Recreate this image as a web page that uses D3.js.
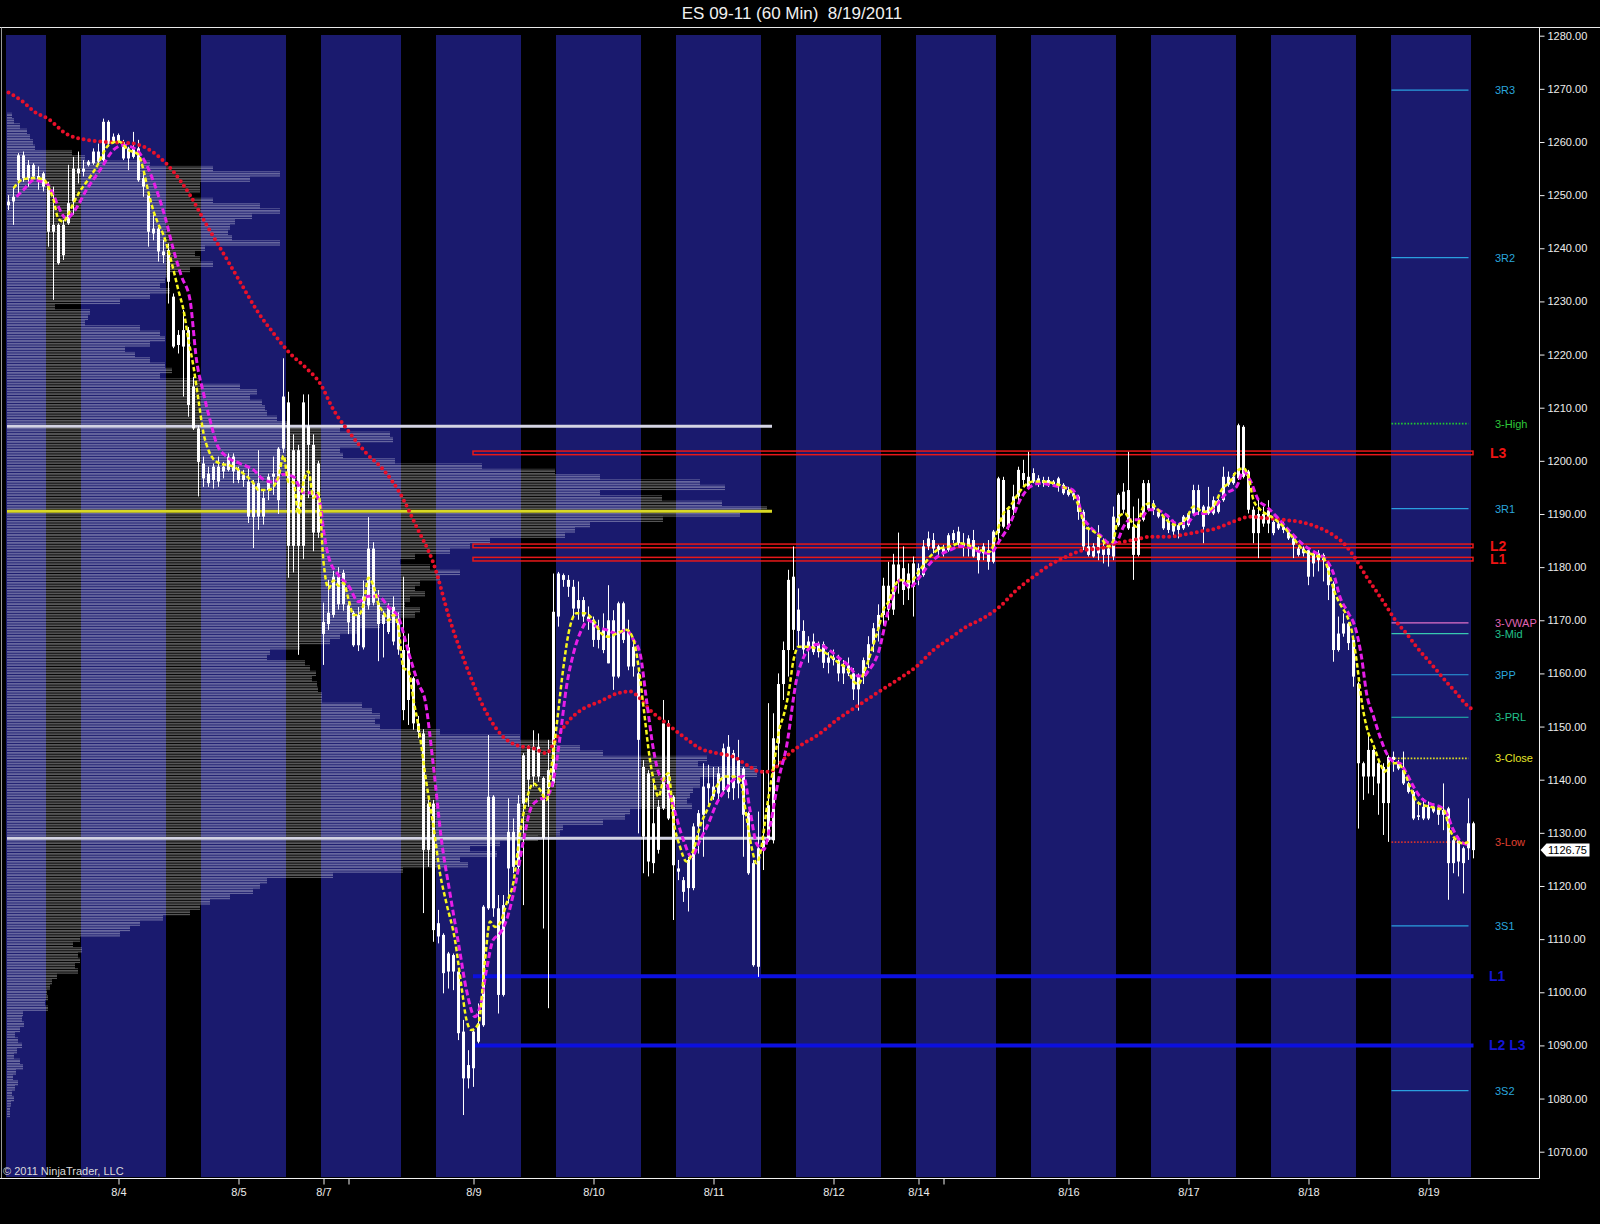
<!DOCTYPE html>
<html><head><meta charset="utf-8">
<script src="https://cdn.jsdelivr.net/npm/d3@7"></script>
<style>html,body{margin:0;padding:0;background:#000;}svg{display:block;}</style>
</head><body>
<svg id="c" width="1600" height="1224"></svg>
<script>
// ---------------- DATA ----------------
const title = "ES 09-11 (60 Min)  8/19/2011";
const copyright = "\u00A9 2011 NinjaTrader, LLC";

// hourly bars, [open, high, low, close], bar index = position
const ohlc = [
[1248.1,1250,1247.2,1248.8],[1248.8,1251.5,1244.4,1249.7],[1252.8,1257.9,1250,1257.5],[1257.5,1258.2,1252.5,1253.2],
[1253.2,1256.6,1251.6,1255.7],[1255.7,1256,1253.2,1253.5],[1253.6,1255.4,1251,1252.8],[1254.1,1254.4,1250.7,1251.6],
[1251.9,1252.5,1240.3,1243.1],[1243.1,1251.6,1230.3,1244.4],[1244.4,1244.7,1236.9,1237.2],[1238.7,1245.3,1237.8,1244.4],
[1244.7,1255.7,1244.4,1248.5],[1248.8,1257.2,1246.3,1255],[1255,1258.2,1252.2,1254.1],[1254.4,1256.6,1253.5,1255],
[1255.7,1256.6,1255.4,1256.3],[1256,1258.8,1255.7,1258.2],[1258.2,1259.7,1255.7,1256.3],[1256.6,1264.4,1256.3,1263.8],
[1263.8,1264.1,1259.1,1259.7],[1260,1261.6,1259.7,1261],[1261.3,1261.6,1259.7,1260],[1260,1260.4,1256.6,1256.9],
[1256.9,1259.1,1254.7,1258.8],[1258.8,1261.9,1256.9,1257.2],[1258.8,1260.4,1252.5,1252.8],[1253.2,1254.1,1249.7,1251.6],
[1250,1250.6,1240.3,1243.1],[1242.8,1246.3,1241.5,1243.7],[1243.7,1244.1,1237.5,1239.4],[1239.4,1241.6,1237.2,1238.7],
[1239.7,1240.9,1229.6,1233.7],[1230.9,1231.5,1221.2,1221.5],[1221.8,1224.6,1220.2,1223.7],[1224.6,1228.4,1212.1,1221.5],
[1224.6,1225.2,1208.3,1210.5],[1214,1215.8,1205.8,1206.1],[1206.1,1206.7,1193.3,1199.8],[1199.5,1200.8,1195.1,1196.7],
[1195.8,1198.9,1195.1,1197.6],[1196.4,1199.5,1194.8,1198.9],[1198.9,1200.8,1195.1,1196.1],[1198,1199.8,1196.7,1198.9],
[1198.3,1201.4,1198,1200.8],[1200.8,1201.4,1195.8,1198],[1198.3,1198.9,1195.8,1196.4],[1196.4,1198.3,1195.1,1197.3],
[1196.1,1198.9,1188.3,1189.5],[1189.4,1196.4,1183.6,1195.8],[1195.8,1202,1187,1189.5],[1189.5,1194.5,1188,1193],
[1194.5,1197.6,1192.6,1197],[1197,1200.8,1193.6,1197.6],[1192.6,1202.6,1190,1202.3],[1202.3,1219.3,1201.5,1212.1],
[1211,1213,1178,1184],[1184,1205,1179,1202],[1202,1203,1163.5,1184],[1184,1212.5,1181.5,1211],
[1206.5,1212.5,1193,1203],[1203,1205,1183,1186.5],[1186.5,1200,1185.5,1199.5],[1169.7,1173.3,1161.6,1167.4],
[1169.3,1177.6,1168.2,1171.4],[1171,1179.3,1170.5,1178.2],[1178.2,1180,1172,1173],[1173,1179.5,1171.8,1178.9],
[1172.8,1173.5,1167.4,1169.6],[1171.4,1171.8,1165,1165.3],[1165.3,1172.5,1164.2,1171],[1164.9,1177.5,1164.5,1174.5],
[1172.8,1189.4,1172,1183.5],[1183.5,1184.7,1172.8,1173.3],[1173.3,1175.7,1162.3,1169.3],[1169.3,1171.8,1163,1171],
[1172.5,1173.2,1167.4,1167.8],[1166,1174.5,1165.3,1172.5],[1170.3,1171.5,1163.5,1164.5],[1164.4,1178.2,1151.2,1153.1],
[1155,1167.5,1150.3,1164.9],[1159.1,1159.4,1149.4,1150.6],[1150.6,1152,1147.8,1149],[1148.7,1149.5,1114.9,1126.8],
[1126.8,1136.2,1123.6,1135.5],[1135.5,1136.2,1109.5,1111.7],[1110.5,1115.5,1109.2,1113],[1110.8,1111.1,1099.8,1103.6],
[1103.9,1107.6,1100.7,1107.3],[1107,1107.3,1100.4,1103.9],[1103.9,1104.2,1091,1092.3],[1092.6,1094.8,1076.9,1083.8],
[1083.8,1089.1,1081.9,1086.3],[1085.7,1092.9,1082.2,1092.6],[1090.7,1097.9,1090.4,1094.1],[1093.8,1116.4,1093.5,1116.1],
[1115.8,1148.4,1115.5,1136.8],[1136.8,1137.1,1114.2,1115.8],[1115.8,1118.3,1096,1099.5],[1099.5,1118.3,1099.2,1116.4],
[1123.3,1136.5,1116.7,1130.2],[1130.2,1132.7,1122.4,1123.6],[1123.6,1137.1,1123,1135.5],[1135.5,1145,1116.4,1144.6],
[1146.2,1146.5,1134.9,1140],[1140.6,1149.3,1138.7,1146.2],[1146.2,1148.7,1139.6,1140.6],[1140.3,1140.6,1112,1129],
[1138.4,1147.5,1097,1141.8],[1139.3,1178.8,1138.7,1171.6],[1170.7,1179.1,1168.8,1178.8],[1178.5,1178.8,1176.3,1177.6],
[1177.6,1178.5,1174.4,1176.3],[1176.3,1177.6,1170.7,1172.2],[1172.2,1177.3,1170.1,1173.8],[1173.8,1174.4,1169.7,1170.7],
[1170.7,1172.6,1168.2,1170.1],[1170.1,1170.7,1165,1166.3],[1166.3,1170.1,1164.7,1168.2],[1168.2,1171.3,1163.8,1164.4],
[1161.9,1176.6,1161.9,1170],[1170,1171.9,1156.9,1159.4],[1159.4,1173.5,1159.1,1173.2],[1173.2,1173.5,1165.7,1166.3],
[1168.2,1170.1,1160.6,1161.3],[1161.3,1165.7,1159.4,1165],[1160,1160.3,1129.9,1147.5],[1142.4,1143.7,1122.4,1129.3],
[1124.6,1141.8,1121.8,1141.2],[1131.8,1140,1122.4,1124.3],[1126.8,1136.2,1126.1,1134.9],[1134.6,1155,1134.3,1150.6],
[1150.6,1151.2,1132.4,1132.7],[1136.8,1137.1,1113.6,1123.9],[1123.3,1124.9,1121.1,1122.7],[1121.1,1121.7,1117,1118.9],
[1119.6,1125.5,1115.2,1124.9],[1119.6,1131.8,1119.2,1131.2],[1131.2,1134.3,1126.1,1133.7],[1133.4,1143.1,1125.5,1138.7],
[1138.4,1142.8,1134.9,1139.3],[1138.7,1142.4,1136.2,1136.8],[1137.4,1142.4,1136.2,1141.2],[1138,1146.8,1137.7,1145.9],
[1146.2,1148.4,1136.5,1137.7],[1138.4,1145.6,1136.2,1145],[1143.7,1147.5,1136.5,1139.3],[1142.1,1142.4,1125.5,1133.4],
[1133.7,1134,1122.1,1122.4],[1124.3,1124.9,1104.8,1105.1],[1104.8,1134,1102.9,1127.1],[1127.1,1141.8,1123,1128.6],
[1128.6,1154.4,1128.3,1135.2],[1128.6,1152.5,1128,1147.8],[1146.8,1160,1142.4,1158],[1158,1166,1155,1164.4],
[1164.4,1179.5,1159.4,1177.6],[1178.2,1183.9,1164.4,1168.2],[1172,1176,1165,1168],[1168,1170,1163,1164.5],
[1164.5,1167,1162,1166],[1166,1167.5,1163.5,1164],[1164,1166,1163,1165.5],[1165.5,1166,1161,1162],
[1162,1164,1160,1163],[1163,1164.5,1161.5,1162.5],[1162.5,1163.5,1158.5,1160],[1160,1162.5,1158,1161.5],
[1161.5,1163,1159.5,1160],[1160,1161,1155,1157],[1157,1160,1153,1159.5],[1159.5,1163,1158,1162.5],
[1162.5,1167,1161,1165.5],[1165.5,1169.5,1164,1168.5],[1168.5,1173,1166,1171],[1171,1178,1169,1176.5],
[1176.5,1181,1170,1172],[1172,1182.5,1171,1180.5],[1180.5,1186.5,1175,1177.5],[1179.8,1183.9,1172.9,1175.7],
[1176,1180.7,1173.8,1178.8],[1176.3,1182,1170.7,1180.7],[1179.8,1180.7,1176.6,1178.2],[1178.5,1185.1,1178.2,1183.9],
[1183.9,1186.7,1183.2,1185.4],[1185.1,1186.4,1182.6,1183.5],[1183.2,1184.2,1182,1183.9],[1183.5,1184.2,1182,1182.6],
[1183.2,1186.4,1182.9,1186],[1186.4,1187,1184.5,1185.1],[1184.5,1187.6,1183.9,1186.7],[1184.5,1186.4,1182,1183.9],
[1183.9,1186,1182,1185.4],[1185.1,1187,1181.8,1182],[1183.2,1183.9,1178.8,1181.3],[1182.6,1184.5,1181.3,1183.9],
[1183.2,1185.1,1179.5,1181],[1181,1187,1180.7,1186.7],[1186.4,1197,1185.1,1196.7],[1196.4,1197,1187.3,1187.6],
[1187.9,1191.4,1187,1190.8],[1190.8,1195.5,1189.8,1193.3],[1193.3,1198.9,1192,1198.3],[1197.7,1200.2,1195.1,1196.4],
[1195.1,1201.7,1194.8,1197],[1196.1,1198.6,1195.8,1197.7],[1196.7,1197.3,1195.1,1196.1],[1195.8,1197,1195.1,1196.4],
[1196.4,1197,1195.1,1195.5],[1195.5,1196.4,1195.1,1196.1],[1195.5,1197,1194.2,1196.7],[1195.5,1195.8,1193.6,1193.9],
[1194.5,1195.1,1193.3,1193.6],[1193.9,1194.5,1192.6,1193.3],[1193.3,1193.6,1188.9,1190.4],[1190.4,1190.8,1183.2,1183.9],
[1183.9,1187.6,1182,1182.3],[1182,1184.5,1181.8,1183.9],[1182.6,1187.9,1181.3,1185.7],[1183.9,1185.4,1180.7,1182.3],
[1182.3,1183.9,1180.1,1183.5],[1182,1191.4,1181.3,1189.5],[1187.9,1193.9,1187.6,1193.6],[1194.2,1195.8,1190.1,1190.8],
[1187.3,1201.7,1187,1194.5],[1187.6,1191.4,1177.6,1182.3],[1182.3,1192.9,1182,1188.2],[1188.9,1196.4,1188.6,1195.8],
[1195.8,1196.4,1190.5,1190.8],[1190.8,1192.6,1189.8,1192],[1190.4,1190.8,1189.2,1189.5],[1189.5,1189.8,1187,1187.3],
[1187,1189.5,1186.4,1188.6],[1188.2,1188.9,1185.7,1186.7],[1187,1188.2,1185.4,1187.9],[1187.3,1189.8,1187,1189.5],
[1187.9,1190.4,1187.6,1190.1],[1190.1,1195.5,1189.8,1194.5],[1194.5,1195.5,1189.8,1190.8],[1191.4,1191.7,1184.5,1187.6],
[1190.1,1195.1,1189.8,1191.4],[1190.1,1193.3,1189.8,1192.6],[1192.6,1192.9,1190.1,1190.4],[1192.6,1198.9,1192.3,1197],
[1197,1198,1195.1,1195.5],[1195.8,1197.7,1195.5,1197],[1196.7,1207,1196.4,1206.7],[1206.4,1206.7,1196.7,1197],
[1198,1198.3,1190.1,1190.8],[1190.8,1191.4,1184.5,1186.4],[1186.4,1192.9,1181.7,1190],[1190,1191.4,1187.6,1188.2],
[1188.2,1192.6,1186.4,1190.7],[1188.5,1189.2,1186,1186.4],[1187.3,1188.6,1187,1188.2],[1187.6,1188.6,1186.4,1187],
[1187,1187.3,1185.1,1185.4],[1185.4,1185.7,1181.7,1184.2],[1183.5,1183.9,1182,1182.3],[1182.6,1183.9,1182,1183.5],
[1183.2,1183.5,1176.6,1178.2],[1180.7,1182.9,1178.2,1182.6],[1182.6,1183.2,1179.2,1181.3],[1181.3,1182.6,1177.3,1182.3],
[1180.7,1181,1173.8,1176.6],[1176.9,1177.3,1162.2,1164.4],[1164.4,1170.7,1164.1,1167.5],[1167.5,1171.3,1166.9,1169.4],
[1169.4,1169.7,1164.4,1165.7],[1166.3,1166.6,1157.5,1159.4],[1158.1,1158.4,1130.8,1143.1],[1143.1,1143.4,1136.2,1140.6],
[1140.6,1148.4,1137.4,1145.6],[1145.6,1145.9,1137.1,1140.6],[1143.1,1143.7,1133.4,1139.3],[1135.6,1143.1,1129.6,1142.4],
[1135.6,1144.6,1128.3,1144.3],[1144.3,1145.3,1141.5,1143.7],[1143.1,1143.7,1141.8,1142.1],[1141.8,1145.3,1139,1139.3],
[1139.3,1139.6,1137.4,1137.7],[1137.7,1138,1132.4,1132.7],[1133,1135.9,1132.4,1133.3],[1132.7,1136.5,1132.4,1134.9],
[1134.9,1135.9,1132.4,1132.7],[1134,1135.5,1133.7,1134.9],[1134.3,1134.9,1131.5,1133.4],[1133.4,1139.3,1130.5,1134.3],
[1134.6,1134.9,1117.4,1124.3],[1124.3,1128.9,1122.4,1128.6],[1128.6,1129.3,1121.8,1124.6],[1127.1,1127.4,1118.6,1124.3],
[1127.1,1136.5,1124.9,1131.8],[1131.8,1132.1,1125.2,1126.75]
];

// overnight (blue) sessions as [first bar, bar after last]
const sessionBands = [[0,8],[15,32],[39,56],[63,79],[86,103],[110,127],[134,151],[158,175],[182,198],[205,222],[229,246],[253,270],[277,293]];

// date axis
const dateTicks  = [22,46,63,68,93,117,141,165,182,187,212,236,260,284];
const dateLabels = ["8/4","8/5","8/7","","8/9","8/10","8/11","8/12","8/14","","8/16","8/17","8/18","8/19"];

// price axis
const priceTicks = [1070,1080,1090,1100,1110,1120,1130,1140,1150,1160,1170,1180,1190,1200,1210,1220,1230,1240,1250,1260,1270,1280];

// volume profile [price, volume]
const profile = [
[1265,5],[1264,7],[1263,13],[1262,20],[1261,23],[1260,26],[1259,28],[1258,65],[1257,78],[1256,143],[1255,206],[1254,273],
[1253,243],[1252,193],[1251,193],[1250,183],[1249,206],[1248,253],[1247,273],[1246,245],[1245,228],[1244,223],[1243,221],
[1242,225],[1241,273],[1240,198],[1239,188],[1238,193],[1237,206],[1236,183],[1235,163],[1234,158],[1233,153],[1232,163],
[1231,143],[1230,113],[1229,48],[1228,83],[1227,81],[1226,78],[1225,133],[1224,153],[1223,158],[1222,143],[1221,118],
[1220,128],[1219,143],[1218,158],[1217,165],[1216,153],[1215,193],[1214,233],[1213,250],[1212,243],[1211,255],[1210,258],
[1209,260],[1208,270],[1207,283],[1206,333],[1205,383],[1204,386],[1203,353],[1202,333],[1201,336],[1200,388],[1199,475],
[1198,548],[1197,593],[1196,693],[1195,718],[1194,593],[1193,655],[1192,715],[1191,760],[1190,733],[1189,656],[1188,583],
[1187,568],[1186,558],[1185,483],[1184,463],[1183,443],[1182,408],[1181,393],[1180,423],[1179,453],[1178,433],[1177,413],
[1176,408],[1175,418],[1174,403],[1173,398],[1172,413],[1171,408],[1170,393],[1169,373],[1168,353],[1167,333],[1166,323],
[1165,293],[1164,263],[1163,260],[1162,298],[1161,303],[1160,309],[1159,305],[1158,310],[1157,311],[1156,315],[1155,315],
[1154,355],[1153,365],[1152,373],[1151,368],[1150,373],[1149,433],[1148,513],[1147,550],[1146,573],[1145,596],[1144,700],
[1143,691],[1142,750],[1141,750],[1140,693],[1139,693],[1138,686],[1137,683],[1136,680],[1135,685],[1134,623],[1133,618],
[1132,596],[1131,556],[1130,553],[1129,531],[1128,493],[1127,463],[1126,490],[1125,453],[1124,461],[1123,396],[1122,326],
[1121,260],[1120,253],[1119,246],[1118,223],[1117,203],[1116,193],[1115,183],[1114,156],[1113,133],[1112,123],[1111,113],
[1110,73],[1109,66],[1108,75],[1107,71],[1106,73],[1105,68],[1104,71],[1103,50],[1102,45],[1101,43],[1100,40],[1099,41],
[1098,38],[1097,41],[1096,16],[1095,15],[1094,17],[1093,13],[1092,8],[1091,11],[1090,15],[1089,10],[1088,7],[1087,13],
[1086,16],[1085,9],[1084,6],[1083,11],[1082,8],[1081,5],[1080,7],[1079,4],[1078,3],[1077,3]
];
const profileLevels = {vah:1206.5, poc:1190.5, val:1129};
const profileEndBar = 152.7;

// moving averages, [bar, value]
const fastMA = [
[1,1251.3],[3,1253],[5,1253.2],[7,1253],[8,1251.5],[9,1249.1],[10,1245.5],[11,1245],[12,1246.5],[13,1248.5],[14,1250.3],
[16,1253],[18,1256],[19,1258],[20,1259.4],[22,1260.1],[24,1258.5],[26,1257.6],[27,1254.7],[28,1250.5],[29,1247],[30,1244.5],
[31,1242.5],[32,1239.5],[33,1235.9],[34,1232],[35,1228.4],[36,1222.7],[37,1217.7],[38,1211.4],[39,1205.2],[40,1202],
[42,1199.6],[45,1198.9],[47,1197.6],[49,1195.8],[50,1194.5],[52,1194.5],[54,1197],[55,1201],[56,1196],[57,1196],[58,1190],
[59,1196],[60,1198],[61,1193],[62,1194],[63,1181],[64,1176],[65,1177.5],[66,1176.5],[67,1177],[68,1174],[69,1171],[70,1171],
[71,1173],[72,1178],[73,1176.5],[74,1173],[75,1171.5],[76,1170],[77,1171],[78,1168.5],[79,1161],[80,1160.5],[81,1155],
[82,1150],[83.6,1139.3],[85,1131.2],[86.3,1122.4],[87.6,1116.7],[89.3,1109.8],[90.6,1101],[91.6,1094.8],[92.6,1092.9],
[94,1094.1],[95.3,1106],[96.3,1113.3],[97.3,1112.3],[98.3,1113],[99.6,1116.7],[101,1120.8],[102.3,1129.9],[103.6,1136.2],
[105,1139.3],[106.3,1138.1],[107.6,1136.2],[108.6,1142.4],[109.6,1150],[111,1161.3],[112,1167.5],[113.6,1171.3],
[115.3,1171.3],[117,1170],[118.6,1167.5],[120,1166.9],[121.6,1167.5],[123.6,1168.2],[125,1166.3],[126,1161.3],[127,1153.7],
[128.3,1143.7],[129,1140],[130,1136.8],[131,1140],[132,1141.2],[133,1132.4],[134.3,1127.4],[135.6,1124.6],[137,1126.8],
[138.3,1131.2],[140,1134.9],[141.6,1138.7],[143.3,1140.6],[145,1140.6],[146.3,1140],[147.6,1133],[148.6,1127.4],
[149.6,1124.3],[150.6,1127.4],[151.6,1134.3],[153,1142.4],[154.3,1150],[155,1152],[156,1156.2],[157,1162.5],[158,1165],
[160,1165],[162,1164.5],[164,1163.5],[166,1162],[168,1160.5],[169,1158.5],[170,1158],[171,1160],[172,1162.5],[173,1165.5],
[174,1168.5],[175,1172],[176,1173.5],[177,1176],[178.3,1177.6],[180.3,1177.3],[182.3,1179.5],[184.3,1182],[186.3,1183.5],
[188.3,1183.9],[190.3,1184.5],[192.3,1184],[194.3,1183.2],[196.3,1182.9],[197.6,1186.4],[199,1190.1],[200.3,1191.4],
[201.6,1193.3],[203,1195.1],[205,1196.1],[207,1196.1],[209,1195.8],[211,1195.1],[213,1193.6],[214.3,1190.8],[215.3,1187.6],
[216.6,1187],[218.3,1185.7],[220,1183.9],[221,1185.1],[222,1189.5],[223.3,1190.1],[224.3,1188.9],[225.6,1187.6],[227,1191.4],
[228.3,1192],[229.6,1191.1],[231.6,1188.9],[233.6,1187.9],[235.6,1189.2],[237,1191.4],[239,1190.4],[241,1191.4],
[242.6,1194.5],[244.3,1196.1],[245.6,1198],[247,1198.6],[248,1197],[249,1192.6],[250.3,1190.9],[253,1189.2],[255,1187.6],
[257,1185.4],[259,1183.2],[261,1182.3],[263,1181.7],[264.3,1178.2],[265.3,1175.1],[266.6,1172.6],[267.6,1171],[268.6,1168.2],
[269.6,1162.5],[270.6,1155],[271.6,1150],[273,1146.5],[274.3,1143.1],[275.3,1141.5],[276.3,1143.1],[277.6,1143.1],
[279,1141.8],[280.3,1138.7],[281.6,1135.9],[283,1135.2],[284.3,1134.9],[285.6,1134.6],[287,1134.3],[288.3,1130.5],
[289.6,1128.6],[291,1128],[292,1128.3]
];
const midMA = [
[1.6,1249.7],[3,1251],[5,1252.8],[7.6,1252.2],[9,1250],[10,1247.8],[11.6,1245.6],[13.3,1247.2],[15.6,1251],[18.3,1254.7],
[21,1258.5],[23,1259.4],[25.6,1258.5],[27.6,1255.7],[29.6,1251],[31.3,1245.9],[33,1239.7],[34.6,1234.7],[36.3,1230.3],
[37.6,1219],[39,1212.7],[40.3,1207.7],[41.6,1203.3],[43.6,1200.8],[46.3,1199.5],[49,1198.3],[51,1196.5],[53,1196],[55,1197.5],
[57,1197],[59,1194],[61,1194],[62.3,1192],[63,1187],[64,1182],[66,1178.5],[68,1176.5],[70,1173.5],[72,1174.5],[74,1174.5],
[76,1172.5],[78,1170.5],[80,1164],[82,1158],[83.3,1155],[85,1142.4],[86.6,1128.6],[88.3,1118.6],[90,1109.2],[91.6,1100.4],
[93.3,1095.4],[94.3,1097.3],[95.6,1104.2],[96.9,1109.8],[98.3,1111.1],[99.6,1113.6],[101.3,1119.9],[103,1128.6],
[104.6,1134.9],[106,1136.2],[107.6,1136.8],[109,1140],[110.3,1148],[111.6,1157.5],[113,1163.8],[114.6,1168.2],[116,1170],
[117.6,1168.8],[119.6,1168.2],[121.6,1167.5],[123.6,1168.2],[125,1166.3],[126.3,1163.8],[127.6,1155],[129,1145.6],
[130.3,1140.6],[131.6,1139.3],[133,1134.9],[135,1128.6],[136.6,1125.5],[138.3,1128.6],[140,1131.8],[141.6,1135.5],
[143.3,1138],[145,1140],[147,1140.6],[148.3,1134.3],[149.6,1128],[151,1126.8],[152.3,1131.2],[154,1140],[155.6,1146.2],
[157.6,1158.8],[159,1163],[160.5,1165],[162,1165.5],[164,1164.5],[166,1163],[168,1161.5],[170,1159.5],[171,1159.5],
[172,1160.5],[174,1164],[176,1172],[177,1175],[178.3,1177.6],[180.3,1176.3],[182.3,1178.2],[184.3,1180.7],[186.3,1182.3],
[188.3,1183.2],[190.3,1183.9],[192.3,1183.7],[194.3,1182.9],[196.3,1182.6],[198.3,1185.1],[200.3,1188.2],[202.3,1192.6],
[204.3,1195.1],[206.3,1195.8],[208.3,1195.5],[210.3,1195.1],[212.3,1194.8],[213.6,1193.6],[214.6,1190.1],[216.3,1187.6],
[218.3,1186],[220.3,1184.5],[221.6,1184.8],[223,1187.6],[224.3,1188.9],[226.3,1188.9],[228,1190.8],[229.6,1190.8],
[231.6,1189.8],[233.6,1188.2],[235.6,1188.2],[237.6,1190.1],[239.6,1190.1],[241.3,1191.4],[243.6,1193.9],[245.6,1195.1],
[247,1198],[248.3,1196.4],[250,1192.6],[251.6,1191.4],[253.6,1189.5],[256.3,1186.7],[259,1184.2],[261.6,1182.6],
[263.6,1181.3],[265,1178.8],[266.3,1174.4],[268,1171.3],[269.3,1168.8],[270.6,1163.1],[271.6,1156.3],[273,1151.9],
[274.3,1148.1],[275.6,1145],[277,1143.4],[278.3,1143.1],[279.6,1141.2],[281,1138.7],[282.3,1136.8],[284.3,1135.5],
[286.3,1134.9],[287.6,1133.7],[289,1130.5],[291,1128],[292,1127.8]
];
const slowMA = [
[0,1269.3],[3,1267.5],[5,1265.8],[8,1264.3],[11.6,1261.5],[15,1260.5],[18.3,1260.1],[25,1259.7],[29.6,1257.6],[33,1254.4],
[36.3,1250],[39.6,1244.4],[43,1239],[46.3,1233.7],[49.6,1228.4],[53,1224],[56.3,1220.2],[59.6,1217.4],[62.3,1214.6],
[65,1209.6],[68.3,1205.2],[71.6,1201.4],[75,1198.3],[78.3,1193.9],[81.6,1187.6],[85,1180.7],[88.3,1170],[91.6,1161.3],
[95,1153.7],[98.3,1148.7],[101.6,1146.5],[105,1145.9],[107.6,1145],[109.6,1147.8],[111.6,1150.6],[115,1153.4],[118.3,1154.7],
[121.6,1156.2],[124.3,1156.6],[126.3,1155.3],[128.3,1153.1],[131.6,1150.6],[135,1148.1],[138.3,1145.9],[141.6,1145],
[145,1144.3],[148.3,1142.4],[150.3,1141.5],[152.3,1141.5],[154.3,1143.1],[156.3,1145],[158,1146.2],[162,1148.5],
[166,1151.5],[170,1154],[174,1156.5],[178.3,1159.1],[181.6,1161.3],[185,1164.4],[188.3,1166.6],[191.6,1168.8],[195,1170.4],
[198.3,1172.6],[201.6,1175.7],[205,1178.2],[208.3,1180.4],[211.6,1182],[215,1183.2],[218.3,1183.5],[221.6,1184.5],
[225,1185.1],[228.3,1185.7],[231.6,1185.7],[235,1186.1],[238.3,1186.7],[241.6,1187.3],[245,1188.6],[248.3,1189.5],
[251.6,1189.2],[255,1188.9],[258.3,1188.5],[261.6,1187.6],[265,1186],[267.6,1183.9],[269.6,1181.3],[271.6,1178.2],
[273.6,1175.4],[275.6,1172.6],[277.6,1169.7],[279.6,1167.5],[281.6,1165],[283.6,1162.8],[285.6,1160.6],[287.6,1158.4],
[289.6,1156.3],[291.6,1154.1],[292.5,1153.4]
];

// pivot levels for the current session
const pivotNames  = ["3R3","3R2","3-High","3R1","3-VWAP","3-Mid","3PP","3-PRL","3-Close","3-Low","3S1","3S2"];
const pivotValues = [1269.75,1238.25,1207,1191,1169.5,1167.5,1159.75,1151.75,1144,1128.25,1112.5,1081.5];
const pivotStartBar = 277, pivotEndBar = 292;

// drawn support / resistance levels
const resistNames  = ["L3","L2","L1"];
const resistValues = [1201.5,1184,1181.5];
const supportNames  = ["L1","L2 L3"];
const supportValues = [1103,1090];
const levelStartBar = 93, levelEndBar = 293;

const lastPrice = 1126.75;

// ---------------- STYLES ----------------
const FONT = "Arial, 'Liberation Sans', sans-serif";
const pivotStyle = {
  "3R3":{c:"#2a9fdf",t:"#2aa6dc",d:null},"3R2":{c:"#2a9fdf",t:"#2aa6dc",d:null},
  "3-High":{c:"#22c832",t:"#2ec83a",d:"1.6 1.6"},"3R1":{c:"#2a9fdf",t:"#2aa6dc",d:null},
  "3-VWAP":{c:"#e070c8",t:"#e064b4",d:null},"3-Mid":{c:"#38c8b0",t:"#22c08c",d:null},
  "3PP":{c:"#2a9fdf",t:"#2aa6dc",d:null},"3-PRL":{c:"#22c0b0",t:"#22c08c",d:null},
  "3-Close":{c:"#e0e020",t:"#e6e628",d:"1.6 1.6"},"3-Low":{c:"#d03030",t:"#e04030",d:"1.6 1.6"},
  "3S1":{c:"#2a9fdf",t:"#2aa6dc",d:null},"3S2":{c:"#2a9fdf",t:"#2aa6dc",d:null}
};

// ---------------- DRAW ----------------
const svg = d3.select("#c");
const x = d3.scaleLinear().domain([0, 293]).range([8.5, 1473.5]);
const y = d3.scaleLinear().domain([1070, 1280]).range([1151.7, 35.7]);
const vx = d3.scaleLinear().domain([0, 800]).range([7, 807]);
const barW = 5;
const frame = {right:1539.5, top:27.5, bottom:1178.5, bandTop:35, bandBottom:1177};

svg.append("rect").attr("width",1600).attr("height",1224).attr("fill","#000");

// title
svg.append("text").attr("x",792).attr("y",18.5).attr("text-anchor","middle")
  .attr("fill","#f0f0f0").style("font-family",FONT).style("font-size","17px")
  .attr("xml:space","preserve").style("white-space","pre").text(title);

// sessions
svg.append("g").selectAll("rect").data(sessionBands).join("rect")
  .attr("x", d => x(d[0]) - barW/2).attr("width", d => x(d[1]) - x(d[0]))
  .attr("y", frame.bandTop).attr("height", frame.bandBottom - frame.bandTop)
  .attr("fill", "#1a1a6e");

// volume profile
const defs = svg.append("defs");
const pat = defs.append("pattern").attr("id","stripe").attr("patternUnits","userSpaceOnUse")
  .attr("width",10).attr("height",(y(0)-y(0.5)));
pat.append("rect").attr("width",10).attr("height",1.8).attr("fill","rgba(255,255,255,0.34)");
svg.append("g").selectAll("rect").data(profile).join("rect")
  .attr("x", vx(0)).attr("width", d => vx(d[1]) - vx(0))
  .attr("y", d => y(d[0] + 0.5)).attr("height", d => y(d[0] - 0.5) - y(d[0] + 0.5))
  .attr("fill","url(#stripe)");

// value area / POC lines
const vaData = [[profileLevels.vah,"#d4d4e4"],[profileLevels.poc,"#d8d824"],[profileLevels.val,"#d4d4e4"]];
svg.append("g").selectAll("line").data(vaData).join("line")
  .attr("x1", vx(0)).attr("x2", x(profileEndBar))
  .attr("y1", d => y(d[0])).attr("y2", d => y(d[0]))
  .attr("stroke", d => d[1]).attr("stroke-width", 3);

// resistance (red double lines)
svg.append("g").selectAll("rect").data(resistValues).join("rect")
  .attr("x", x(levelStartBar)-0.5).attr("width", x(levelEndBar) - x(levelStartBar))
  .attr("y", d => y(d) - 1.8).attr("height", 3.6)
  .attr("fill","none").attr("stroke","#e81818").attr("stroke-width",1.5);

// support (blue thick lines)
svg.append("g").selectAll("line").data(supportValues).join("line")
  .attr("x1", x(levelStartBar)-0.5).attr("x2", x(levelEndBar))
  .attr("y1", d => y(d)).attr("y2", d => y(d))
  .attr("stroke","#0c10e0").attr("stroke-width",4);

// pivot lines
svg.append("g").selectAll("line").data(pivotNames).join("line")
  .attr("x1", x(pivotStartBar) - 2).attr("x2", x(pivotEndBar))
  .attr("y1", (d,i) => y(pivotValues[i])).attr("y2", (d,i) => y(pivotValues[i]))
  .attr("stroke", d => pivotStyle[d].c)
  .attr("stroke-width", d => pivotStyle[d].d ? 1.8 : 1.2)
  .attr("stroke-dasharray", d => pivotStyle[d].d);

// candles
const cg = svg.append("g");
cg.selectAll("line").data(ohlc).join("line")
  .attr("x1",(d,i)=>x(i)).attr("x2",(d,i)=>x(i))
  .attr("y1",d=>y(d[1])).attr("y2",d=>y(d[2]))
  .attr("stroke","#ffffff").attr("stroke-width",1);
cg.selectAll("rect").data(ohlc).join("rect")
  .attr("x",(d,i)=>x(i)-1.5).attr("width",3)
  .attr("y",d=>y(Math.max(d[0],d[3])))
  .attr("height",d=>Math.max(1, Math.abs(y(d[0])-y(d[3]))))
  .attr("fill","#ffffff");

// moving averages
const lg = d3.line().x(d => x(d[0])).y(d => y(d[1])).curve(d3.curveMonotoneX);
svg.append("path").attr("d", lg(slowMA)).attr("fill","none")
  .attr("stroke","#e8102a").attr("stroke-width",4).attr("stroke-linecap","round")
  .attr("stroke-dasharray","0 5.6");
svg.append("path").attr("d", lg(midMA)).attr("fill","none")
  .attr("stroke","#e61ee8").attr("stroke-width",3).attr("stroke-dasharray","6 3");
svg.append("path").attr("d", lg(fastMA)).attr("fill","none")
  .attr("stroke","#f8f81c").attr("stroke-width",2.5).attr("stroke-dasharray","4.5 2.5");

// pivot labels
svg.append("g").selectAll("text").data(pivotNames).join("text")
  .attr("x", 1495).attr("y", (d,i) => y(pivotValues[i])).attr("dy","0.36em")
  .attr("fill", d => pivotStyle[d].t)
  .style("font-family",FONT).style("font-size","11px").text(d => d);

// level labels
svg.append("g").selectAll("text").data(resistNames).join("text")
  .attr("x", 1490).attr("y", (d,i) => y(resistValues[i])).attr("dy","0.36em")
  .attr("fill","#ee1414").style("font-family",FONT).style("font-size","14px").style("font-weight","bold")
  .text(d => d);
svg.append("g").selectAll("text").data(supportNames).join("text")
  .attr("x", 1489).attr("y", (d,i) => y(supportValues[i])).attr("dy","0.36em")
  .attr("fill","#1414d6").style("font-family",FONT).style("font-size","14px").style("font-weight","bold")
  .text(d => d);

// frame lines
svg.append("line").attr("x1",0).attr("x2",1600).attr("y1",frame.top).attr("y2",frame.top).attr("stroke","#e8e8e8").attr("stroke-width",1);
svg.append("line").attr("x1",1.5).attr("x2",1.5).attr("y1",frame.top).attr("y2",frame.bottom).attr("stroke","#9a9a9a").attr("stroke-width",1);
svg.append("line").attr("x1",frame.right).attr("x2",frame.right).attr("y1",frame.top).attr("y2",frame.bottom).attr("stroke","#f0f0f0").attr("stroke-width",1);
svg.append("line").attr("x1",0).attr("x2",frame.right).attr("y1",frame.bottom).attr("y2",frame.bottom).attr("stroke","#f0f0f0").attr("stroke-width",1);

// right price axis
const ya = svg.append("g").attr("transform",`translate(${frame.right},0)`)
  .call(d3.axisRight(y).tickValues(priceTicks).tickFormat(d3.format(".2f")).tickSize(5).tickPadding(3));
ya.select(".domain").remove();
ya.selectAll("line").attr("stroke","#f0f0f0");
ya.selectAll("text").attr("fill","#ececec").style("font-family",FONT).style("font-size","11px");

// bottom date axis
const xa = svg.append("g").attr("transform",`translate(0,${frame.bottom})`)
  .call(d3.axisBottom(x).tickValues(dateTicks).tickFormat((d,i)=>dateLabels[i]).tickSize(6).tickPadding(4));
xa.select(".domain").remove();
xa.selectAll("line").attr("stroke","#f0f0f0");
xa.selectAll("text").attr("fill","#ececec").style("font-family",FONT).style("font-size","11px");

// last price marker
const ly = y(lastPrice);
svg.append("path")
  .attr("d", `M${frame.right+1},${ly} L${frame.right+7},${ly-6.5} L${frame.right+50},${ly-6.5} L${frame.right+50},${ly+6.5} L${frame.right+7},${ly+6.5} Z`)
  .attr("fill","#ffffff");
svg.append("text").attr("x", frame.right+8.5).attr("y", ly).attr("dy","0.36em")
  .attr("fill","#000").style("font-family",FONT).style("font-size","11px").text(d3.format(".2f")(lastPrice));

// copyright
svg.append("text").attr("x",3).attr("y",1175).attr("fill","#dcdcdc")
  .style("font-family",FONT).style("font-size","11px").text(copyright);
</script>
</body></html>
